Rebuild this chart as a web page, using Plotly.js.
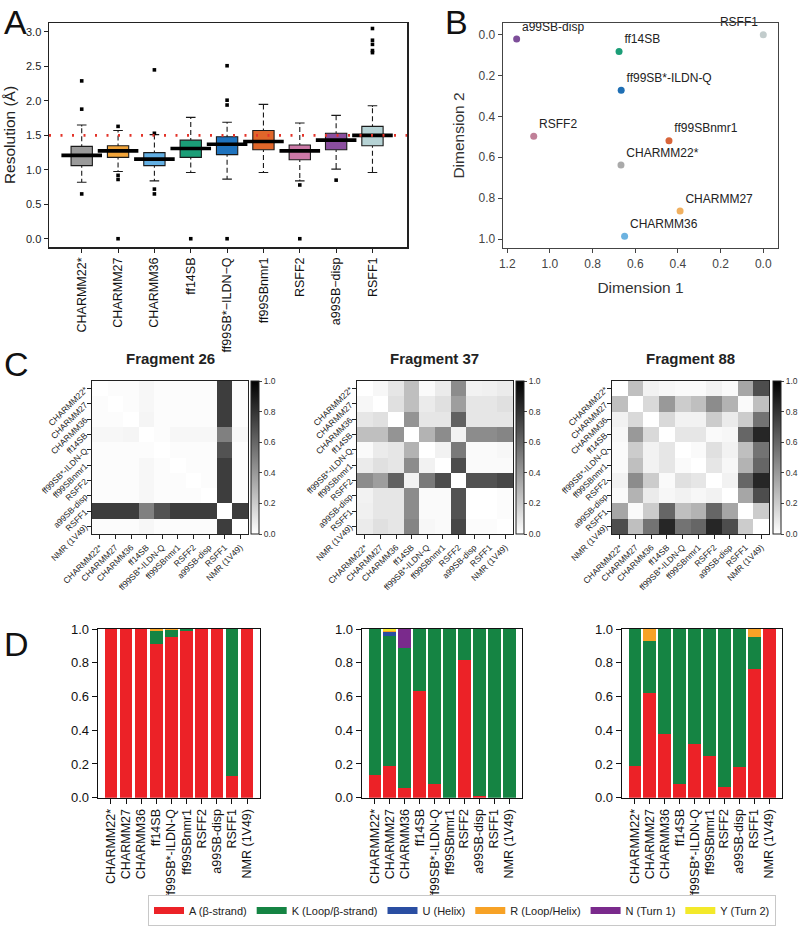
<!DOCTYPE html>
<html><head><meta charset="utf-8">
<script src="https://cdn.plot.ly/plotly-3.0.1.min.js"></script>
<style>body{margin:0;background:#fff}#chart{width:800px;height:940px}</style>
</head><body><div id="chart"></div>
<script>
// ---------- Panel A: resolution box plots ----------
const boxCats = ['CHARMM22*','CHARMM27','CHARMM36','ff14SB','ff99SB*-ILDN-Q','ff99SBnmr1','RSFF2','a99SB-disp','RSFF1'];
const boxColors = ['#9a9a9a','#f2a53a','#62afe3','#1b9e77','#1f73be','#e0662a','#cc79a7','#8b4f9f','#b6d3d5'];
const q1 =        [1.06, 1.18, 1.06, 1.18, 1.22, 1.29, 1.145, 1.29, 1.35];
const medians =   [1.21, 1.275,1.155,1.31, 1.37, 1.41, 1.275, 1.43, 1.50];
const q3 =        [1.34, 1.35, 1.25, 1.43, 1.48, 1.57, 1.36,  1.53, 1.63];
const lowFence =  [0.82, 0.975,0.84, 0.96, 0.865,0.96, 0.84,  1.01, 0.96];
const upFence =   [1.65, 1.57, 1.51, 1.76, 1.69, 1.95, 1.68,  1.79, 1.93];
const outlierCat = ['CHARMM22*','CHARMM22*','CHARMM22*','CHARMM27','CHARMM27','CHARMM27','CHARMM27',
  'CHARMM36','CHARMM36','CHARMM36','CHARMM36','ff14SB','ff99SB*-ILDN-Q','ff99SB*-ILDN-Q','ff99SB*-ILDN-Q','ff99SB*-ILDN-Q',
  'RSFF2','RSFF2','a99SB-disp','RSFF1','RSFF1','RSFF1','RSFF1','RSFF1'];
const outlierVal = [2.29,1.88,0.65, 1.63,0.92,0.86,0.0, 2.45,1.53,0.72,0.65, 0.0, 2.51,2.01,1.94,0.0,
  0.78,0.0, 0.85, 3.05,2.88,2.82,2.73,2.70];
const threshold = 1.5;

// ---------- Panel B: MDS ----------
const mdsNames = ['a99SB-disp','ff14SB','ff99SB*-ILDN-Q','RSFF2','ff99SBnmr1','CHARMM22*','CHARMM27','CHARMM36','RSFF1'];
const dim1 = [1.156, 0.676, 0.666, 1.076, 0.442, 0.667, 0.39, 0.65, 0.0];
const dim2 = [0.021, 0.083, 0.272, 0.497, 0.519, 0.638, 0.863, 0.987, 0.0];
const mdsColors = {'a99SB-disp':'#7d4e99','ff14SB':'#1b9e77','ff99SB*-ILDN-Q':'#1f6fb4','RSFF2':'#c08098',
  'ff99SBnmr1':'#d8653a','CHARMM22*':'#aaaaaa','CHARMM27':'#f0b060','CHARMM36':'#6cb2e0','RSFF1':'#c2cccc'};

// ---------- Panel C: distance matrices ----------
const hmLabels = ['CHARMM22*','CHARMM27','CHARMM36','ff14SB','ff99SB*-ILDN-Q','ff99SBnmr1','RSFF2','a99SB-disp','RSFF1','NMR (1V49)'];
const frag26 = [
  [0,0.01,0.01,0.03,0.01,0.01,0.01,0.01,0.76,0.01],
  [0.01,0,0.01,0.03,0.01,0.01,0.01,0.01,0.76,0.01],
  [0.01,0.01,0,0.04,0.01,0.01,0.01,0.01,0.76,0.01],
  [0.03,0.03,0.04,0,0.01,0.03,0.03,0.03,0.50,0.03],
  [0.01,0.01,0.01,0.01,0,0.01,0.01,0.01,0.68,0.01],
  [0.01,0.01,0.01,0.03,0.01,0,0.01,0.01,0.76,0.01],
  [0.01,0.01,0.01,0.03,0.01,0.01,0,0.01,0.76,0.01],
  [0.01,0.01,0.01,0.03,0.01,0.01,0.01,0,0.76,0.01],
  [0.76,0.76,0.76,0.50,0.68,0.76,0.76,0.76,0,0.76],
  [0.01,0.01,0.01,0.03,0.01,0.01,0.01,0.01,0.76,0]
];
const frag37 = [
  [0,0.03,0.10,0.25,0.02,0.08,0.45,0.05,0.06,0.08],
  [0.03,0,0.12,0.25,0.08,0.12,0.38,0.10,0.10,0.12],
  [0.10,0.12,0,0.42,0.10,0.10,0.62,0.10,0.10,0.10],
  [0.25,0.25,0.42,0,0.30,0.45,0.05,0.45,0.45,0.48],
  [0.02,0.08,0.10,0.30,0,0.05,0.52,0.02,0.02,0.03],
  [0.08,0.12,0.10,0.45,0.05,0,0.70,0.02,0.02,0.02],
  [0.45,0.38,0.62,0.05,0.52,0.70,0,0.68,0.68,0.72],
  [0.05,0.10,0.10,0.45,0.02,0.02,0.68,0,0.00,0.01],
  [0.06,0.10,0.10,0.45,0.02,0.02,0.68,0.00,0,0.01],
  [0.08,0.12,0.10,0.48,0.03,0.02,0.72,0.01,0.01,0]
];
const frag88 = [
  [0,0.25,0.05,0.03,0.02,0.02,0.05,0.02,0.35,0.70],
  [0.25,0,0.15,0.40,0.20,0.25,0.45,0.30,0.02,0.25],
  [0.05,0.15,0,0.15,0.05,0.05,0.20,0.08,0.20,0.55],
  [0.03,0.40,0.15,0,0.10,0.10,0.02,0.03,0.60,0.85],
  [0.02,0.20,0.05,0.10,0,0.02,0.12,0.05,0.25,0.55],
  [0.02,0.25,0.05,0.10,0.02,0,0.10,0.03,0.30,0.60],
  [0.05,0.45,0.20,0.02,0.12,0.10,0,0.05,0.60,0.85],
  [0.02,0.30,0.08,0.03,0.05,0.03,0.05,0,0.35,0.70],
  [0.35,0.02,0.20,0.60,0.25,0.30,0.60,0.35,0,0.20],
  [0.70,0.25,0.55,0.85,0.55,0.60,0.85,0.70,0.20,0]
];
const fragTitles = ['Fragment 26','Fragment 37','Fragment 88'];

// ---------- Panel D: secondary-structure fractions ----------
const ssCats = hmLabels;
const ssNames = ['A (β-strand)','K (Loop/β-strand)','U (Helix)','R (Loop/Helix)','N (Turn 1)','Y (Turn 2)'];
const ssColors = ['#ec2227','#158443','#2a4ea2','#f7a226','#7a2a8c','#f3e92a'];
const f26_A = [1,1,1,0.91,0.955,0.99,1,1,0.13,1];
const f26_K = [0,0,0,0.08,0.04,0.01,0,0,0.87,0];
const f26_U = [0,0,0,0,0,0,0,0,0,0];
const f26_R = [0,0,0,0.01,0.005,0,0,0,0,0];
const f26_N = [0,0,0,0,0,0,0,0,0,0];
const f26_Y = [0,0,0,0,0,0,0,0,0,0];
const f37_A = [0.135,0.19,0.055,0.635,0.08,0,0.815,0.01,0,0];
const f37_K = [0.865,0.77,0.835,0.365,0.92,1,0.185,0.99,1,1];
const f37_U = [0,0.025,0,0,0,0,0,0,0,0];
const f37_R = [0,0.005,0,0,0,0,0,0,0,0];
const f37_N = [0,0,0.11,0,0,0,0,0,0,0];
const f37_Y = [0,0.01,0,0,0,0,0,0,0,0];
const f88_A = [0.19,0.62,0.38,0.08,0.32,0.25,0.065,0.18,0.76,1];
const f88_K = [0.81,0.31,0.62,0.92,0.68,0.75,0.935,0.82,0.195,0];
const f88_U = [0,0,0,0,0,0,0,0,0,0];
const f88_R = [0,0.07,0,0,0,0,0,0,0.045,0];
const f88_N = [0,0,0,0,0,0,0,0,0,0];
const f88_Y = [0,0,0,0,0,0,0,0,0,0];

// ================= build =================
const W = 800, H = 940;
const fx = p => p / W;
const fy = p => 1 - p / H;
const FONT = 'Liberation Sans, Arial, sans-serif';
const traces = [];

// Panel A
boxCats.forEach((c, i) => {
  traces.push({type:'box', xaxis:'x', yaxis:'y', x:[c], q1:[q1[i]], median:[medians[i]], q3:[q3[i]],
    lowerfence:[lowFence[i]], upperfence:[upFence[i]], fillcolor:boxColors[i],
    line:{color:'#1a1a1a', width:1.1}, width:0.586, whiskerwidth:0.45, boxpoints:false, showlegend:false, hoverinfo:'skip'});
});
// white dashes over whiskers so they read as dashed lines
const wx = [], wy = [];
boxCats.forEach((c, i) => {
  wx.push(c, c, null, c, c, null);
  wy.push(q3[i] + 0.03, upFence[i] - 0.02, null, q1[i] - 0.03, lowFence[i] + 0.02, null);
});
traces.push({type:'scatter', mode:'lines', xaxis:'x', yaxis:'y', x:wx, y:wy, connectgaps:false,
  line:{color:'#ffffff', width:2.6, dash:'3px,5px'}, showlegend:false, hoverinfo:'skip'});
traces.push({type:'scatter', mode:'markers', xaxis:'x', yaxis:'y', x:boxCats, y:medians,
  marker:{symbol:'line-ew', size:29, line:{width:3.6, color:'#000'}}, showlegend:false, hoverinfo:'skip'});
traces.push({type:'scatter', mode:'markers', xaxis:'x', yaxis:'y', x:outlierCat, y:outlierVal,
  marker:{symbol:'square', size:3.6, color:'#000'}, showlegend:false, hoverinfo:'skip'});

// Panel B
traces.push({type:'scatter', mode:'markers+text', xaxis:'x2', yaxis:'y2', x:dim1, y:dim2, text:mdsNames, cliponaxis:false,
  textposition: mdsNames.map(n => n === 'RSFF1' ? 'top left' : 'top right'),
  textfont:{size:12, color:'#222', family:FONT},
  marker:{size:7, color:mdsNames.map(n => mdsColors[n])}, showlegend:false, hoverinfo:'skip'});

// Panel C
const mats = [frag26, frag37, frag88];
const cbX = [251, 516, 773];
mats.forEach((m, k) => {
  traces.push({type:'heatmap', xaxis:'x'+(k+3), yaxis:'y'+(k+3), z:m, x:hmLabels, y:hmLabels,
    zmin:0, zmax:1, colorscale:[[0,'#ffffff'],[1,'#000000']], hoverinfo:'skip',
    colorbar:{x:fx(cbX[k]), xanchor:'left', y:(fy(534)+fy(381))/2, yanchor:'middle', len:(fy(381)-fy(534)), lenmode:'fraction',
      thickness:8, outlinewidth:1, outlinecolor:'#222', ticks:'outside', ticklen:3, tickwidth:1,
      tickvals:[0,0.2,0.4,0.6,0.8,1.0], tickformat:'.1f', tickfont:{size:8.5, color:'#333', family:FONT}, xpad:0, ypad:0}});
});

// Panel D
const ssSets = [
  [f26_A,f26_K,f26_U,f26_R,f26_N,f26_Y],
  [f37_A,f37_K,f37_U,f37_R,f37_N,f37_Y],
  [f88_A,f88_K,f88_U,f88_R,f88_N,f88_Y]
];
ssSets.forEach((set, k) => {
  set.forEach((vals, j) => {
    traces.push({type:'bar', xaxis:'x'+(k+6), yaxis:'y'+(k+6), x:ssCats, y:vals, name:ssNames[j],
      marker:{color:ssColors[j], line:{width:0}}, showlegend:false, hoverinfo:'skip'});
  });
});
// legend entries
ssNames.forEach((n, j) => {
  traces.push({type:'scatter', mode:'lines', xaxis:'x8', yaxis:'y8', x:[null], y:[null], name:n,
    line:{color:ssColors[j], width:7}, showlegend:true, hoverinfo:'skip'});
});

const baseAx = {showgrid:false, zeroline:false, showline:true, mirror:true, ticks:'outside', automargin:false};
const layout = {
  width:W, height:H, margin:{l:0,r:0,t:0,b:0, autoexpand:false},
  paper_bgcolor:'#fff', plot_bgcolor:'#fff', font:{family:FONT, color:'#222'},
  barmode:'stack', bargap:0.17, boxmode:'overlay', showlegend:true,
  legend:{orientation:'h', traceorder:'normal', x:fx(148), xanchor:'left', y:fy(895), yanchor:'top', bordercolor:'#c8c8c8', borderwidth:1,
    font:{size:11, family:'Liberation Sans, sans-serif', color:'#222'}, itemwidth:30, tracegroupgap:0},
  xaxis: Object.assign({}, baseAx, {domain:[fx(49), fx(407)], anchor:'y', type:'category', range:[-0.9, 8.95],
    linecolor:'#222', linewidth:1.5, tickcolor:'#222', ticklen:4, tickangle:-90,
    tickvals:boxCats, ticktext:boxCats.map(s => s.replace(/-/g,'\u2212')), tickfont:{size:12.5, color:'#111'}}),
  yaxis: Object.assign({}, baseAx, {domain:[fy(247), fy(23)], anchor:'x', range:[-0.12, 3.13],
    linecolor:'#222', linewidth:1.5, tickcolor:'#222', ticklen:4, tickvals:[0,0.5,1,1.5,2,2.5,3], tickformat:'.1f',
    tickfont:{size:11, color:'#222'}, title:{text:'Resolution (Å)', font:{size:15.5}, standoff:6}}),
  xaxis2: Object.assign({}, baseAx, {domain:[fx(503), fx(778)], anchor:'y2', range:[1.22, -0.069],
    linecolor:'#444', linewidth:1.3, tickcolor:'#444', ticklen:4, tickvals:[0,0.2,0.4,0.6,0.8,1.0,1.2], tickformat:'.1f',
    tickfont:{size:12, color:'#444'}, title:{text:'Dimension 1', font:{size:15.5, color:'#333'}, standoff:12}}),
  yaxis2: Object.assign({}, baseAx, {domain:[fy(248), fy(23)], anchor:'x2', range:[1.044, -0.057],
    linecolor:'#444', linewidth:1.3, tickcolor:'#444', ticklen:4, tickvals:[0,0.2,0.4,0.6,0.8,1.0], tickformat:'.1f',
    tickfont:{size:12, color:'#444'}, title:{text:'Dimension 2', font:{size:15.5, color:'#333'}, standoff:10}}),
  annotations:[], shapes:[]
};
const hmX = [[92,248],[357,513],[612,769]];
hmX.forEach((d, k) => {
  const n = k + 3;
  layout['xaxis'+n] = Object.assign({}, baseAx, {domain:[fx(d[0]), fx(d[1])], anchor:'y'+n, type:'category',
    tickmode:'array', tickvals:hmLabels,
    linecolor:'#222', linewidth:1.2, tickcolor:'#222', ticklen:4, tickangle:-45, tickfont:{size:8.5, color:'#222'}});
  layout['yaxis'+n] = Object.assign({}, baseAx, {domain:[fy(534), fy(381)], anchor:'x'+n, type:'category', autorange:'reversed',
    tickmode:'array', tickvals:hmLabels,
    linecolor:'#222', linewidth:1.2, tickcolor:'#222', ticklen:4, tickangle:-45, tickfont:{size:8.5, color:'#222'}});
  layout.annotations.push({xref:'paper', yref:'paper', x:fx((d[0]+d[1])/2), y:fy(358), text:'<b>'+fragTitles[k]+'</b>',
    showarrow:false, font:{size:15, color:'#222'}, xanchor:'center', yanchor:'middle'});
});
const dX = [[98,260],[362,522],[622,782]];
dX.forEach((d, k) => {
  const n = k + 6;
  layout['xaxis'+n] = Object.assign({}, baseAx, {domain:[fx(d[0]), fx(d[1])], anchor:'y'+n, type:'category', range:[-0.85, 9.85],
    tickmode:'array', tickvals:ssCats,
    linecolor:'#111', linewidth:1.3, tickcolor:'#111', ticklen:5, tickangle:-90, tickfont:{size:12.5, color:'#111'}});
  layout['yaxis'+n] = Object.assign({}, baseAx, {domain:[fy(797.7), fy(629)], anchor:'x'+n, range:[0, 1],
    linecolor:'#111', linewidth:1.3, tickcolor:'#111', ticklen:5, tickvals:[0,0.2,0.4,0.6,0.8,1.0], tickformat:'.1f',
    tickfont:{size:13, color:'#111'}});
});
// threshold line on panel A
layout.shapes.push({type:'line', xref:'x domain', x0:0, x1:1, yref:'y', y0:threshold, y1:threshold, layer:'above',
  line:{color:'#e3342a', width:2.6, dash:'2px,9.5px'}});
// panel letters
[['A',2,1],['B',443,1],['C',2,343],['D',2,623]].forEach(p => {
  layout.annotations.push({xref:'paper', yref:'paper', x:fx(p[1]), y:fy(p[2]), xanchor:'left', yanchor:'top', text:p[0],
    showarrow:false, font:{size:34, color:'#111', family:'Liberation Sans, Arial, sans-serif'}});
});

Plotly.newPlot('chart', traces, layout, {staticPlot:true, displayModeBar:false});
</script>
</body></html>
